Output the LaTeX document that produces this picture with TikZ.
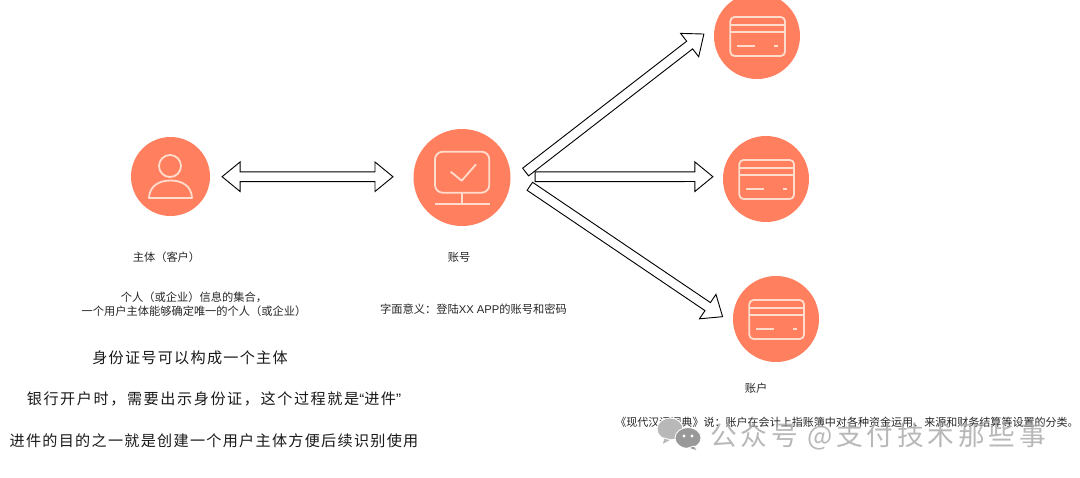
\documentclass[tikz,border=0pt]{standalone}
\usepackage{fontspec}
\setmainfont{Noto Sans CJK SC}
\newfontfamily\latinfont{Liberation Sans}
\usetikzlibrary{calc}

\definecolor{coral}{HTML}{FF7F5F}
\definecolor{peach}{HTML}{FFDCCB}

\tikzset{
iconcircle/.style={circle,fill=coral,inner sep=0pt},
iconline/.style={draw=peach,line width=2.6pt,line join=round},
blockline/.style={draw=black,fill=white,line width=1.3pt,line join=miter},
smalltext/.style={text=black!85,font=\fontsize{16pt}{20pt}\selectfont,inner sep=0pt,align=center},
bigtext/.style={text=black!90,font=\fontsize{21.5pt}{25pt}\selectfont\addfontfeature{LetterSpace=8.5},inner sep=0pt},
marktext/.style={text=black!35,text opacity=0.8,font=\fontsize{38pt}{42pt}\selectfont\addfontfeature{LetterSpace=14},inner sep=0pt},
markbubble/.style={fill=black!28,draw=white,line width=1.2pt}
}

% hollow arrow with one head: from tail to tip
\newcommand{\blockarrow}[2]{
\coordinate (hb) at ($(#2)!25.6pt!(#1)$);
\draw[blockline] ($(#1)!6.9pt!90:(#2)$) -- ($(hb)!6.9pt!90:(#2)$) -- ($(hb)!21pt!90:(#2)$) -- (#2)
-- ($(hb)!21pt!-90:(#2)$) -- ($(hb)!6.9pt!-90:(#2)$) -- ($(#1)!6.9pt!-90:(#2)$) -- cycle;
}

% hollow arrow with two heads
\newcommand{\blockarrowboth}[2]{
\coordinate (ha) at ($(#1)!25.6pt!(#2)$);
\coordinate (hb) at ($(#2)!25.6pt!(#1)$);
\draw[blockline] (#1) -- ($(ha)!21pt!90:(#2)$) -- ($(ha)!6.9pt!90:(#2)$) -- ($(hb)!6.9pt!90:(#2)$) -- ($(hb)!21pt!90:(#2)$) -- (#2)
-- ($(hb)!21pt!-90:(#2)$) -- ($(hb)!6.9pt!-90:(#2)$) -- ($(ha)!6.9pt!-90:(#2)$) -- ($(ha)!21pt!-90:(#2)$) -- cycle;
}

\begin{document}
\begin{tikzpicture}[x=0.5mm,y=-0.5mm]

\clip (0,0) rectangle (1080,477);

% Cercles
\node[iconcircle,minimum size=3.95cm] (subject) at (170.5,176.5) {};
\node[iconcircle,minimum size=4.85cm] (account) at (462,177.5) {};
\node[iconcircle,minimum size=4.3cm] (cardA) at (757,36) {};
\node[iconcircle,minimum size=4.3cm] (cardB) at (766,179) {};
\node[iconcircle,minimum size=4.3cm] (cardC) at (776,319) {};

% Personne
\begin{scope}[shift={(subject.center)}]
\draw[iconline] (-0.5,-10.5) circle (11);
\draw[iconline] (-21.5,21.5) .. controls (-21,9) and (-11,4) .. (0,4) .. controls (11,4) and (21,9) .. (21.5,21.5) -- cycle;
\end{scope}

% Ecran
\begin{scope}[shift={(account.center)}]
\draw[iconline,rounded corners=11pt] (-27,-25.8) rectangle (27.3,15.2);
\draw[iconline] (-11.3,-5.8) -- (-0.3,3.2) -- (14,-13.2);
\draw[iconline] (0,15.2) -- (0,26.5);
\draw[iconline] (-27,26.5) -- (28,26.5);
\end{scope}

% Cartes
\foreach \card in {cardA,cardB,cardC}
{
\begin{scope}[shift={(\card.center)}]
\draw[iconline,rounded corners=6pt] (-26.7,-19) rectangle (28,20);
\draw[iconline] (-26.7,-10.7) -- (28,-10.7);
\draw[iconline] (-26.7,-4) -- (28,-4);
\draw[iconline] (-20,10) -- (-2,10);
\draw[iconline] (17.3,10) -- (21.3,10);
\end{scope}
}

% Fleches
\coordinate (linkLeft) at ([shift={(17pt,-0.3pt)}]subject.east);
\coordinate (linkRight) at ([shift={(-29pt,1.1pt)}]account.west);
\coordinate (tailA) at ([shift={(21.3pt,7.8pt)}]account.east);
\coordinate (tailB) at ([shift={(34.8pt,1.1pt)}]account.east);
\coordinate (tailC) at ([shift={(27.3pt,-12.5pt)}]account.east);
\coordinate (tipA) at ([shift={(-14.2pt,2.8pt)}]cardA.west);
\coordinate (tipB) at ([shift={(-14.2pt,3.3pt)}]cardB.west);
\coordinate (tipC) at ([shift={(-14.6pt,3.3pt)}]cardC.west);

\blockarrowboth{linkLeft}{linkRight}
\blockarrow{tailA}{tipA}
\blockarrow{tailC}{tipC}
\blockarrow{tailB}{tipB}

% Textes
\node[smalltext] (subjectName) at (166.5,257) {主体（客户）};
\node[smalltext] (accountName) at (459,257) {账号};
\node[smalltext] (cardName) at (756,388) {账户};
\node[smalltext] (subjectNote) at (194,304) {个人（或企业）信息的集合，\\一个用户主体能够确定唯一的个人（或企业）};
\node[smalltext] (accountNote) at (473.5,309) {字面意义：登陆{\latinfont XX APP}的账号和密码};
\node[smalltext,font=\fontsize{15.7pt}{20pt}\selectfont] (cardNote) at (847,422) {《现代汉语词典》说：账户在会计上指账簿中对各种资金运用、来源和财务结算等设置的分类。};

\node[bigtext] (lineA) at (190,358) {身份证号可以构成一个主体};
\node[bigtext] (lineB) at (214,399) {\addfontfeature{LetterSpace=10.5}银行开户时，需要出示身份证，这个过程就是{\latinfont “}进件{\latinfont ”}};
\node[bigtext] (lineC) at (214,441) {进件的目的之一就是创建一个用户主体方便后续识别使用};

% Filigrane
\path[markbubble] (670,429) ellipse (13 and 11);
\path[markbubble] (664,438) -- (662,445) -- (671,440) -- cycle;
\path[markbubble,fill=black!40] (688,438) ellipse (13 and 10.5);
\path[markbubble,fill=black!40] (694,446) -- (698,451) -- (688,448) -- cycle;
\foreach \x in {684,692}
{
\fill[white] (\x,436) circle (1.6);
}
\node[marktext] (mark) at (878,437) {公众号 @支付技术那些事};

\end{tikzpicture}
\end{document}
